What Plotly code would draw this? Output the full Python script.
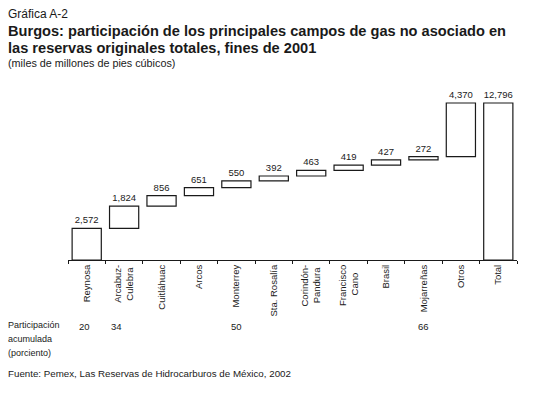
import plotly.graph_objects as go

NB = "\u00a0"
categories = ["Reynosa", "Arcabuz-<br>Culebra" + NB, "Cuitláhuac", "Arcos", "Monterrey",
              "Sta. Rosalía", "Corindón-<br>Pandura" + NB, "Francisco<br>Cano" + NB * 3,
              "Brasil", "Mojarreñas", "Otros", "Total"]
values = [2572, 1824, 856, 651, 550, 392, 463, 419, 427, 272, 4370, 12796]
measures = ["relative"] * 11 + ["total"]
value_labels = ["2,572", "1,824", "856", "651", "550", "392", "463", "419", "427",
                "272", "4,370", "12,796"]
share_idx = [0, 1, 4, 9]
share_vals = ["20", "34", "50", "66"]
share_shift = [-2, -8, 0, 0]

FONT = "Liberation Sans, Arial, sans-serif"
INK = "#1a1a1a"

fig = go.Figure(go.Waterfall(
    x=categories,
    y=values,
    measure=measures,
    text=value_labels,
    textposition="outside",
    textfont=dict(family=FONT, size=9.5, color=INK),
    increasing=dict(marker=dict(color="white", line=dict(color=INK, width=1.2))),
    totals=dict(marker=dict(color="white", line=dict(color=INK, width=1.2))),
    decreasing=dict(marker=dict(color="white", line=dict(color=INK, width=1.2))),
    connector=dict(visible=False),
    cliponaxis=False,
))

W, H = 533, 397
L, R, T, B = 68, 16, 85, 137

fig.update_layout(
    width=W, height=H,
    margin=dict(l=L, r=R, t=T, b=B),
    paper_bgcolor="white", plot_bgcolor="white",
    showlegend=False,
    waterfallgap=0.22,
    font=dict(family=FONT, color=INK),
    xaxis=dict(
        type="category",
        showline=True, linecolor=INK, linewidth=1,
        ticks="outside", tickson="boundaries", ticklen=3, tickcolor=INK,
        tickangle=-90,
        tickfont=dict(family=FONT, size=9.5, color=INK),
        showgrid=False, zeroline=False,
    ),
    yaxis=dict(visible=False, range=[0, 14264], showgrid=False, zeroline=False),
)

ann = []
def txt(text, yshift, size, bold=False, yref_y=1):
    ann.append(dict(xref="paper", yref="paper", x=0, y=yref_y, xshift=-L + 6,
                    yshift=yshift, xanchor="left", yanchor="middle", showarrow=False,
                    text=("<b>%s</b>" % text) if bold else text,
                    font=dict(family=FONT, size=size, color=INK)))

txt("Gráfica A-2", 71, 12)
txt("Burgos: participación de los principales campos de gas no asociado en", 54, 14.6, bold=True)
txt("las reservas originales totales, fines de 2001", 37.5, 14.6, bold=True)
txt("(miles de millones de pies cúbicos)", 22.5, 10.8)
txt("Participación", -65, 9, yref_y=0)
txt("acumulada", -79, 9, yref_y=0)
txt("(porciento)", -93, 9, yref_y=0)
txt("Fuente: Pemex, Las Reservas de Hidrocarburos de México, 2002", -113, 9.75, yref_y=0)

for i, v, s in zip(share_idx, share_vals, share_shift):
    ann.append(dict(xref="x", yref="paper", x=categories[i], y=0, yshift=-66, xshift=s,
                    xanchor="center", yanchor="middle", showarrow=False, text=v,
                    font=dict(family=FONT, size=9.5, color=INK)))

fig.update_layout(annotations=ann)
fig.write_html("out.html", post_script="document.body.style.margin='0';",
               config={"displayModeBar": False})
